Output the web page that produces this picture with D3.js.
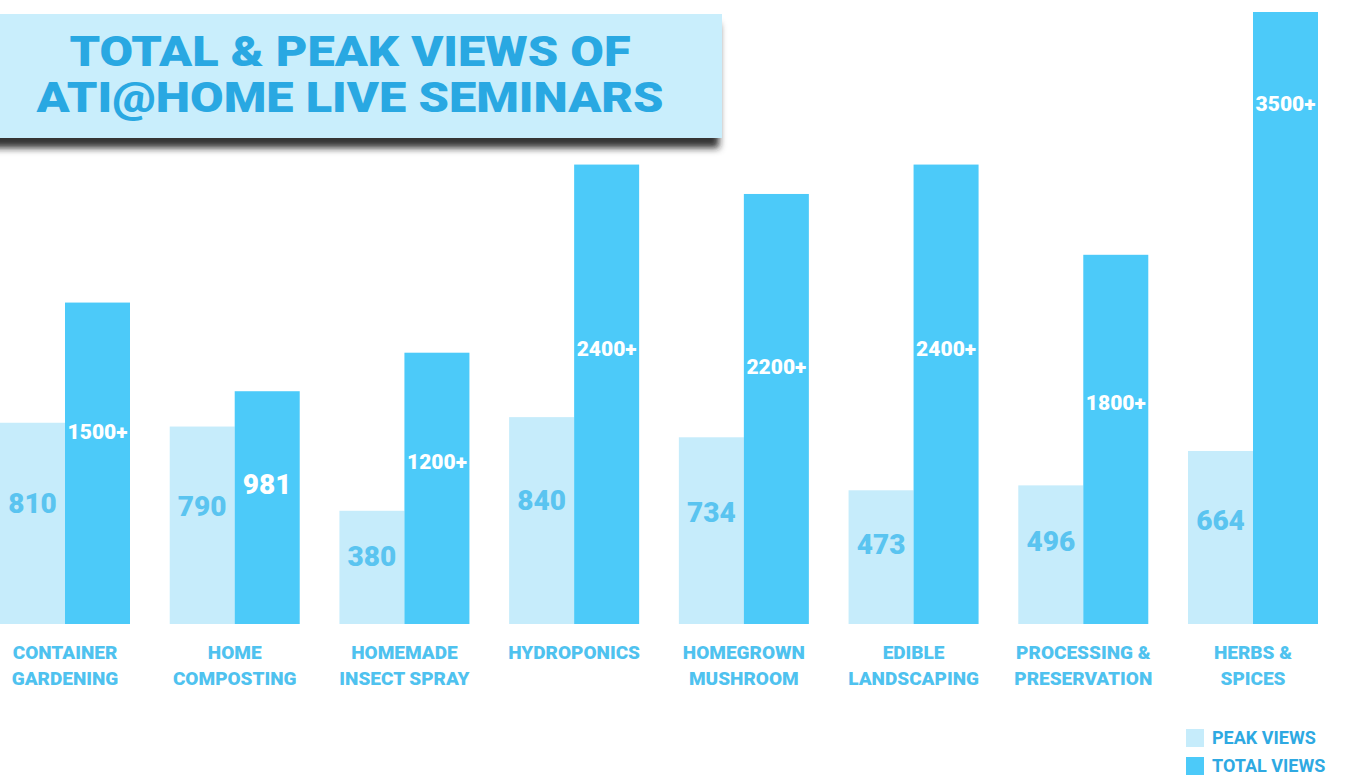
<!DOCTYPE html>
<html lang="en">
<head>
<meta charset="UTF-8">
<title>ATI@HOME seminars</title>
<script src="https://d3js.org/d3.v7.min.js"></script>
<style>
    html, body { margin: 0; padding: 0; background: #fff; }
    svg { display: block; font-family: Roboto, "Noto Sans", sans-serif; }
</style>
</head>
<body>
<script>
    var categories = [
        ["CONTAINER", "GARDENING"],
        ["HOME", "COMPOSTING"],
        ["HOMEMADE", "INSECT SPRAY"],
        ["HYDROPONICS"],
        ["HOMEGROWN", "MUSHROOM"],
        ["EDIBLE", "LANDSCAPING"],
        ["PROCESSING &", "PRESERVATION"],
        ["HERBS &", "SPICES"]
    ];
    var peakViews = [810, 790, 380, 840, 734, 473, 496, 664];
    var totalViews = [1500, 981, 1200, 2400, 2200, 2400, 1800, 3500];
    var totalLabels = ["1500+", "981", "1200+", "2400+", "2200+", "2400+", "1800+", "3500+"];
    var seriesNames = ["PEAK VIEWS", "TOTAL VIEWS"];
    var titleLines = ["TOTAL & PEAK VIEWS OF", "ATI@HOME LIVE SEMINARS"];

    var W = 1346, H = 776;
    var peakColor = "#c6ecfb", totalColor = "#4ccaf9";
    var labelColor = "#4fc2ef";

    var svg = d3.select("body").append("svg")
        .attr("width", W)
        .attr("height", H);

    var defs = svg.append("defs");
    var f = defs.append("filter").attr("id", "shadow")
        .attr("x", "-5%").attr("y", "-10%").attr("width", "110%").attr("height", "140%");
    f.append("feDropShadow")
        .attr("dx", -3).attr("dy", 10)
        .attr("stdDeviation", 3.5)
        .attr("flood-color", "#1e1e1e")
        .attr("flood-opacity", 0.9);

    var idx = d3.range(categories.length);

    // group scale + inner series scale
    var x = d3.scaleBand()
        .domain(idx)
        .range([0, 1318])
        .paddingInner(0.234)
        .paddingOuter(0);
    var xs = d3.scaleBand()
        .domain([0, 1])
        .range([0, x.bandwidth()]);

    // the infographic bars are not linear; a power scale follows them well
    var y = d3.scalePow().exponent(0.76)
        .domain([0, 3500])
        .range([624, 12]);

    var groups = svg.append("g").selectAll("g")
        .data(idx)
        .enter()
        .append("g")
        .attr("transform", function (i) { return "translate(" + x(i) + ",0)"; });

    // peak bars
    groups.append("rect")
        .attr("x", xs(0))
        .attr("y", function (i) { return y(peakViews[i]); })
        .attr("width", xs.bandwidth())
        .attr("height", function (i) { return y(0) - y(peakViews[i]); })
        .attr("fill", peakColor);

    // total bars
    groups.append("rect")
        .attr("x", xs(1))
        .attr("y", function (i) { return y(totalViews[i]); })
        .attr("width", xs.bandwidth())
        .attr("height", function (i) { return y(0) - y(totalViews[i]); })
        .attr("fill", totalColor);

    // peak labels
    groups.append("text")
        .attr("x", xs(0) + xs.bandwidth() / 2)
        .attr("y", function (i) {
            var h = y(0) - y(peakViews[i]);
            return y(0) - 0.6 * h;
        })
        .attr("dy", "0.36em")
        .attr("text-anchor", "middle")
        .attr("font-size", 28)
        .attr("font-weight", 900)
        .attr("fill", "#5ac4f0")
        .text(function (i) { return peakViews[i]; });

    // total labels
    groups.append("text")
        .attr("x", xs(1) + xs.bandwidth() / 2)
        .attr("y", function (i) {
            var h = y(0) - y(totalViews[i]);
            if (h > 550) return y(totalViews[i]) + 0.15 * h;
            return y(0) - 0.6 * h;
        })
        .attr("dy", "0.36em")
        .attr("text-anchor", "middle")
        .attr("font-size", function (i) { return totalLabels[i].indexOf("+") > -1 ? 21 : 28; })
        .attr("font-weight", 900)
        .attr("fill", "#fff")
        .text(function (i) { return totalLabels[i]; });

    // category labels
    var cat = groups.append("text")
        .attr("text-anchor", "middle")
        .attr("font-size", 19)
        .attr("font-weight", 900)
        .attr("fill", labelColor)
        .attr("transform", "translate(" + x.bandwidth() / 2 + ",0)");
    cat.selectAll("tspan")
        .data(function (i) { return categories[i]; })
        .enter()
        .append("tspan")
        .attr("x", 0)
        .attr("y", function (d, j) { return 659 + j * 26; })
        .text(function (d) { return d; });

    // title box
    var title = svg.append("g");
    title.append("rect")
        .attr("x", -10).attr("y", 14)
        .attr("width", 732).attr("height", 124)
        .attr("fill", "#c9eefc")
        .attr("filter", "url(#shadow)");
    title.selectAll("text")
        .data(titleLines)
        .enter()
        .append("text")
        .attr("transform", function (d, i) { return "translate(350," + (66 + i * 46) + ") scale(1.16,1)"; })
        .attr("text-anchor", "middle")
        .attr("font-size", 42)
        .attr("font-weight", 900)
        .attr("fill", "#29a8e2")
        .text(function (d) { return d; });

    // legend
    var legend = svg.append("g").selectAll("g")
        .data(seriesNames)
        .enter()
        .append("g")
        .attr("transform", function (d, i) { return "translate(1186," + (729 + i * 28) + ")"; });
    legend.append("rect")
        .attr("width", 18).attr("height", 18)
        .attr("fill", function (d, i) { return i === 0 ? peakColor : totalColor; });
    legend.append("text")
        .attr("x", 26).attr("y", 9)
        .attr("dy", "0.36em")
        .attr("font-size", 18)
        .attr("font-weight", 700)
        .attr("fill", "#2ea9e2")
        .text(function (d) { return d; });
</script>
</body>
</html>
